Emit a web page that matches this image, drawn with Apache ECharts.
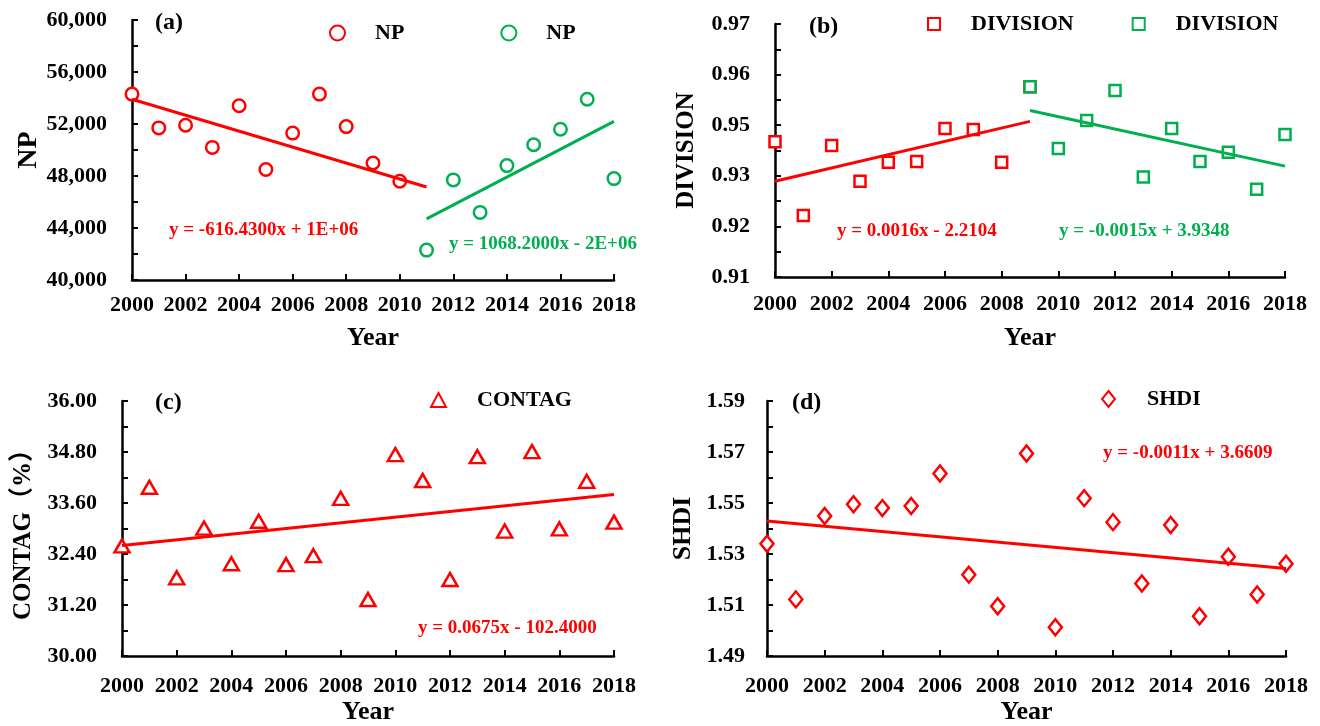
<!DOCTYPE html>
<html lang="en">
<head>
    <meta charset="UTF-8">
    <title>Landscape metrics 2000-2018</title>
    <script src="https://cdn.jsdelivr.net/npm/echarts@6/dist/echarts.min.js"></script>
    <style>
        html, body { margin: 0; padding: 0; background: #fff; }
        #main { width: 1320px; height: 726px; }
    </style>
</head>
<body>
    <div id="main"></div>
    <script type="text/javascript">
        // 数据
        var years = [2000, 2001, 2002, 2003, 2004, 2005, 2006, 2007, 2008, 2009,
                     2010, 2011, 2012, 2013, 2014, 2015, 2016, 2017, 2018];
        var npValues = [54300, 51700, 51900, 50200, 53400, 48500, 51300, 54300, 51800, 49000,
                        47600, 42300, 47700, 45200, 48800, 50400, 51600, 53900, 47800];
        var divisionValues = [0.9421, 0.9246, 0.9412, 0.9327, 0.9372, 0.9374, 0.9452, 0.9450, 0.9372, 0.9551,
                              0.9405, 0.9471, 0.9542, 0.9337, 0.9452, 0.9374, 0.9396, 0.9308, 0.9438];
        var contagValues = [32.59, 33.97, 31.84, 33.01, 32.17, 33.17, 32.15, 32.36, 33.71, 31.33,
                            34.74, 34.13, 31.80, 34.69, 32.94, 34.81, 32.99, 34.11, 33.15];
        var shdiValues = [1.534, 1.5122, 1.5449, 1.5495, 1.548, 1.5488, 1.5616, 1.5219, 1.5095, 1.5694,
                          1.5013, 1.5519, 1.5425, 1.5184, 1.5414, 1.5056, 1.5289, 1.5141, 1.5262];

        // 趋势线端点
        var npTrendRed = [[2000, 53900], [2011, 47150]];
        var npTrendGreen = [[2011, 44700], [2018, 52200]];
        var divTrendRed = [[2000, 0.9327], [2009, 0.9469]];
        var divTrendGreen = [[2009, 0.9495], [2018, 0.9363]];
        var contagTrend = [[2000, 32.6], [2018, 33.8]];
        var shdiTrend = [[2000, 1.5429], [2018, 1.5243]];

        // 刻度标签
        var npTicks = [40000, 44000, 48000, 52000, 56000, 60000];
        var npMinor = [40000, 42000, 44000, 46000, 48000, 50000, 52000, 54000, 56000, 58000, 60000];
        var divTicks = [0.91, 0.922, 0.934, 0.946, 0.958, 0.97];
        var divMinor = [0.91, 0.916, 0.922, 0.928, 0.934, 0.94, 0.946, 0.952, 0.958, 0.964, 0.97];
        var contagTicks = [30, 31.2, 32.4, 33.6, 34.8, 36];
        var contagMinor = [30, 30.6, 31.2, 31.8, 32.4, 33, 33.6, 34.2, 34.8, 35.4, 36];
        var shdiTicks = [1.49, 1.51, 1.53, 1.55, 1.57, 1.59];
        var shdiMinor = [1.49, 1.50, 1.51, 1.52, 1.53, 1.54, 1.55, 1.56, 1.57, 1.58, 1.59];

        var RED = '#ff0000';
        var GREEN = '#00b050';
        var FONT = '"Liberation Serif", "Times New Roman", "Noto Sans CJK SC", serif';

        function pairs(xs, ys) {
            return xs.map(function (x, i) { return [x, ys[i]]; });
        }

        function xAxisFor(grid, gap, labelMargin) {
            return {
                type: 'value', gridIndex: grid, min: 2000, max: 2018, interval: 2,
                name: 'Year', nameLocation: 'middle', nameGap: gap,
                nameTextStyle: { fontFamily: FONT, fontWeight: 'bold', fontSize: 26, color: '#000' },
                axisLine: { show: true, lineStyle: { color: '#000', width: 2.5 } },
                axisTick: { show: true, inside: true, length: 6, lineStyle: { color: '#000', width: 2 } },
                axisLabel: { margin: labelMargin, formatter: function (v) { return String(v); },
                             fontFamily: FONT, fontWeight: 'bold', fontSize: 22, color: '#000' },
                splitLine: { show: false }
            };
        }

        function yAxisFor(grid, name, min, max, ticks, minor, fmt, gap, labelMargin, nameSize) {
            return {
                type: 'value', gridIndex: grid, min: min, max: max,
                name: name, nameLocation: 'middle', nameGap: gap,
                nameTextStyle: { fontFamily: FONT, fontWeight: 'bold', fontSize: nameSize || 25, color: '#000' },
                axisLine: { show: true, lineStyle: { color: '#000', width: 2.5 } },
                axisTick: { show: true, inside: true, length: 6, customValues: minor, lineStyle: { color: '#000', width: 2 } },
                axisLabel: { margin: labelMargin, customValues: ticks, formatter: fmt,
                             fontFamily: FONT, fontWeight: 'bold', fontSize: 22, color: '#000' },
                splitLine: { show: false }
            };
        }

        function scatter(name, grid, data, symbol, size, color, z) {
            return {
                name: name, type: 'scatter', xAxisIndex: grid, yAxisIndex: grid,
                data: data, symbol: symbol, symbolSize: size, z: z || 2,
                itemStyle: { color: '#fff', borderColor: color, borderWidth: 2.5, opacity: 1 },
                emphasis: { disabled: true }
            };
        }

        function trend(grid, data, color) {
            return {
                type: 'line', xAxisIndex: grid, yAxisIndex: grid, data: data,
                showSymbol: false, symbol: 'none', z: 3, silent: true,
                lineStyle: { color: color, width: 3 }
            };
        }

        function legendFor(left, top, names, w, h, gap, pad) {
            return {
                left: left, top: top, padding: 0, itemWidth: w, itemHeight: h, itemGap: gap,
                data: names, selectedMode: false,
                formatter: function (n) { return n.trim(); },
                textStyle: { fontFamily: FONT, fontWeight: 'bold', fontSize: 22, color: '#000', padding: [0, 0, 0, pad] }
            };
        }

        function note(left, top, text, color, size) {
            return {
                type: 'text', left: left, top: top, silent: true,
                style: { text: text, fill: color, font: 'bold ' + (size || 19) + 'px ' + FONT }
            };
        }

        var commaFmt = function (v) { return Math.round(v).toLocaleString('en-US'); };
        var fix2 = function (v) { return v.toFixed(2); };

        var redIdx = years.slice(0, 11), greenIdx = years.slice(11);
        var divRedYears = years.slice(0, 10), divGreenYears = years.slice(9);

        var myChart = echarts.init(document.getElementById('main'));
        var option = {
            animation: false,
            backgroundColor: '#fff',
            grid: [
                { left: 132, top: 20, width: 482, height: 260 },
                { left: 775, top: 24, width: 510, height: 253 },
                { left: 122, top: 401, width: 492, height: 257 },
                { left: 767, top: 401, width: 519, height: 257 }
            ],
            xAxis: [
                xAxisFor(0, 45, 14),
                xAxisFor(1, 48, 16),
                xAxisFor(2, 43, 19),
                xAxisFor(3, 43, 19)
            ],
            yAxis: [
                yAxisFor(0, 'NP', 40000, 60000, npTicks, npMinor, commaFmt, 83, 25, 28),
                yAxisFor(1, 'DIVISION', 0.91, 0.97, divTicks, divMinor, fix2, 76, 25),
                yAxisFor(2, 'CONTAG（%）', 30, 36, contagTicks, contagMinor, fix2, 86, 25),
                yAxisFor(3, 'SHDI', 1.49, 1.59, shdiTicks, shdiMinor, fix2, 71, 22, 26)
            ],
            legend: [
                legendFor(329, 22, ['NP', 'NP '], 15, 15, 96, 25),
                legendFor(927, 13, ['DIVISION', 'DIVISION '], 12, 12, 58, 26),
                legendFor(430, 389, ['CONTAG'], 15, 14, 10, 26),
                legendFor(1101, 388, ['SHDI'], 13, 16, 10, 27)
            ],
            graphic: [
                note(155, 11, '(a)', '#000', 24),
                note(809, 15, '(b)', '#000', 24),
                note(155, 391, '(c)', '#000', 24),
                note(792, 391, '(d)', '#000', 24),
                note(169, 221, 'y = -616.4300x + 1E+06', RED),
                note(449, 235, 'y = 1068.2000x - 2E+06', GREEN),
                note(837, 222, 'y = 0.0016x - 2.2104', RED),
                note(1059, 222, 'y = -0.0015x + 3.9348', GREEN),
                note(418, 619, 'y = 0.0675x - 102.4000', RED),
                note(1103, 444, 'y = -0.0011x + 3.6609', RED)
            ],
            series: [
                scatter('NP', 0, pairs(redIdx, npValues.slice(0, 11)), 'circle', 12.5, RED),
                scatter('NP ', 0, pairs(greenIdx, npValues.slice(11)), 'circle', 12.5, GREEN),
                trend(0, npTrendRed, RED),
                trend(0, npTrendGreen, GREEN),

                scatter('DIVISION', 1, pairs(divRedYears, divisionValues.slice(0, 10)), 'rect', 11, RED),
                scatter('DIVISION ', 1, pairs(divGreenYears, divisionValues.slice(9)), 'rect', 11, GREEN, 2.5),
                trend(1, divTrendRed, RED),
                trend(1, divTrendGreen, GREEN),

                scatter('CONTAG', 2, pairs(years, contagValues), 'triangle', [15, 13], RED),
                trend(2, contagTrend, RED),

                scatter('SHDI', 3, pairs(years, shdiValues), 'diamond', [13, 16], RED),
                trend(3, shdiTrend, RED)
            ]
        };
        myChart.setOption(option);
    </script>
</body>
</html>
